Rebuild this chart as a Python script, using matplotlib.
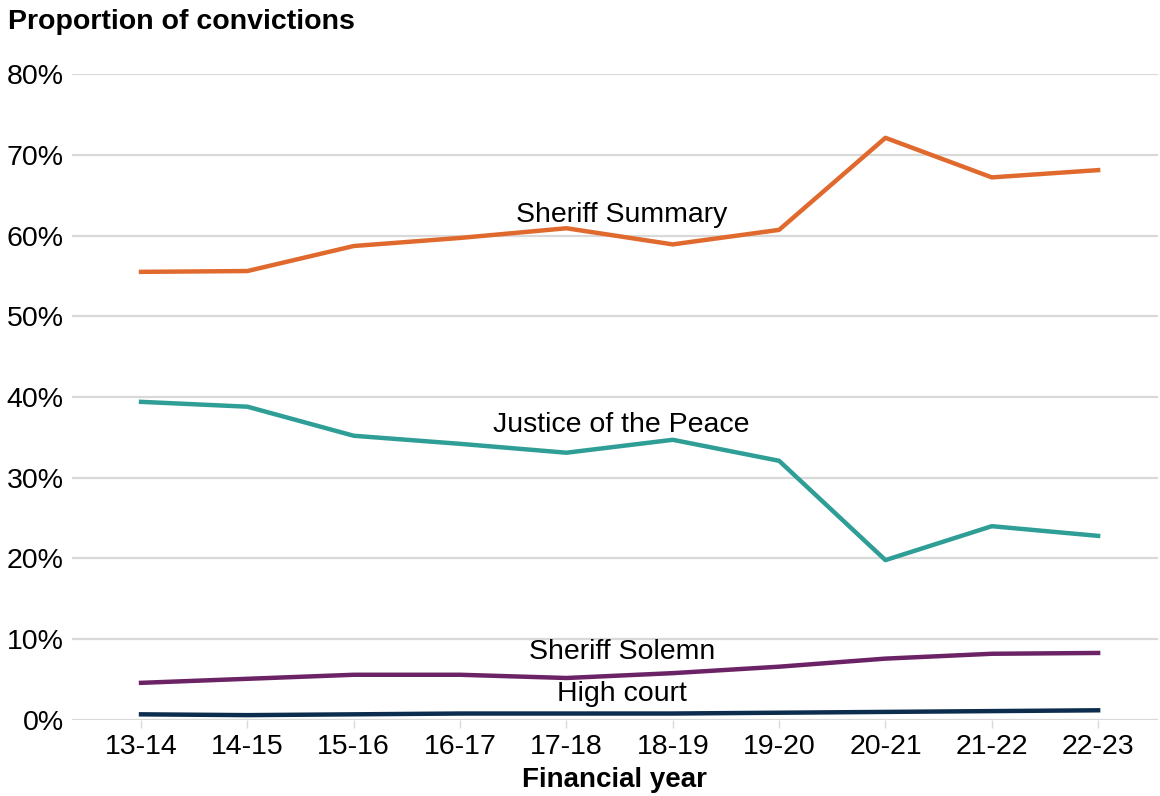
import matplotlib
matplotlib.use("Agg")
import matplotlib.pyplot as plt

years = ["13-14", "14-15", "15-16", "16-17", "17-18", "18-19", "19-20", "20-21", "21-22", "22-23"]
sheriff_summary = [55.5, 55.6, 58.7, 59.7, 60.9, 58.9, 60.7, 72.1, 67.2, 68.1]
justice_peace = [39.4, 38.8, 35.2, 34.2, 33.1, 34.7, 32.1, 19.8, 24.0, 22.8]
sheriff_solemn = [4.6, 5.1, 5.6, 5.6, 5.2, 5.8, 6.6, 7.6, 8.2, 8.3]
high_court = [0.7, 0.6, 0.7, 0.8, 0.8, 0.8, 0.9, 1.0, 1.1, 1.2]

series_names = ["Sheriff Summary", "Justice of the Peace", "Sheriff Solemn", "High court"]
series_values = [sheriff_summary, justice_peace, sheriff_solemn, high_court]
series_colors = ["#E06A2E", "#2E9E96", "#6C2366", "#0C2D4E"]
label_y = [62.6, 36.5, 8.4, 3.2]

plt.rcParams["font.family"] = ["Liberation Sans", "DejaVu Sans"]

fig = plt.figure(figsize=(11.6, 7.96), dpi=100)
ax = fig.add_axes([0.062, 0.0955, 0.936, 0.8115])

x = list(range(len(years)))
for name, vals, col, ly in zip(series_names, series_values, series_colors, label_y):
    ax.plot(x, vals, color=col, lw=3.2, solid_joinstyle="round", zorder=3)
    ax.text(4.52, ly, name, ha="center", va="center", fontsize=20.5, color="black", zorder=4)

ax.set_xlim(-0.65, 9.56)
ax.set_ylim(0, 80)
ax.set_yticks(range(0, 81, 10))
ax.set_yticklabels([f"{v}%" for v in range(0, 81, 10)], fontsize=20.5)
ax.set_xticks(x)
ax.set_xticklabels(years, fontsize=20.5)
ax.grid(axis="y", color="#D9D9D9", lw=1.6, zorder=1)
ax.set_axisbelow(True)
for s in ax.spines.values():
    s.set_visible(False)
ax.tick_params(axis="y", length=0, pad=6)
ax.tick_params(axis="x", length=6, width=1, color="#D9D9D9", pad=4)

ax.set_xlabel("Financial year", fontsize=20, fontweight="bold", labelpad=5)
fig.text(0.007, 0.972, "Proportion of convictions", fontsize=20.5, fontweight="bold", va="center", ha="left")

fig.savefig("out.png", dpi=100, facecolor="white")
